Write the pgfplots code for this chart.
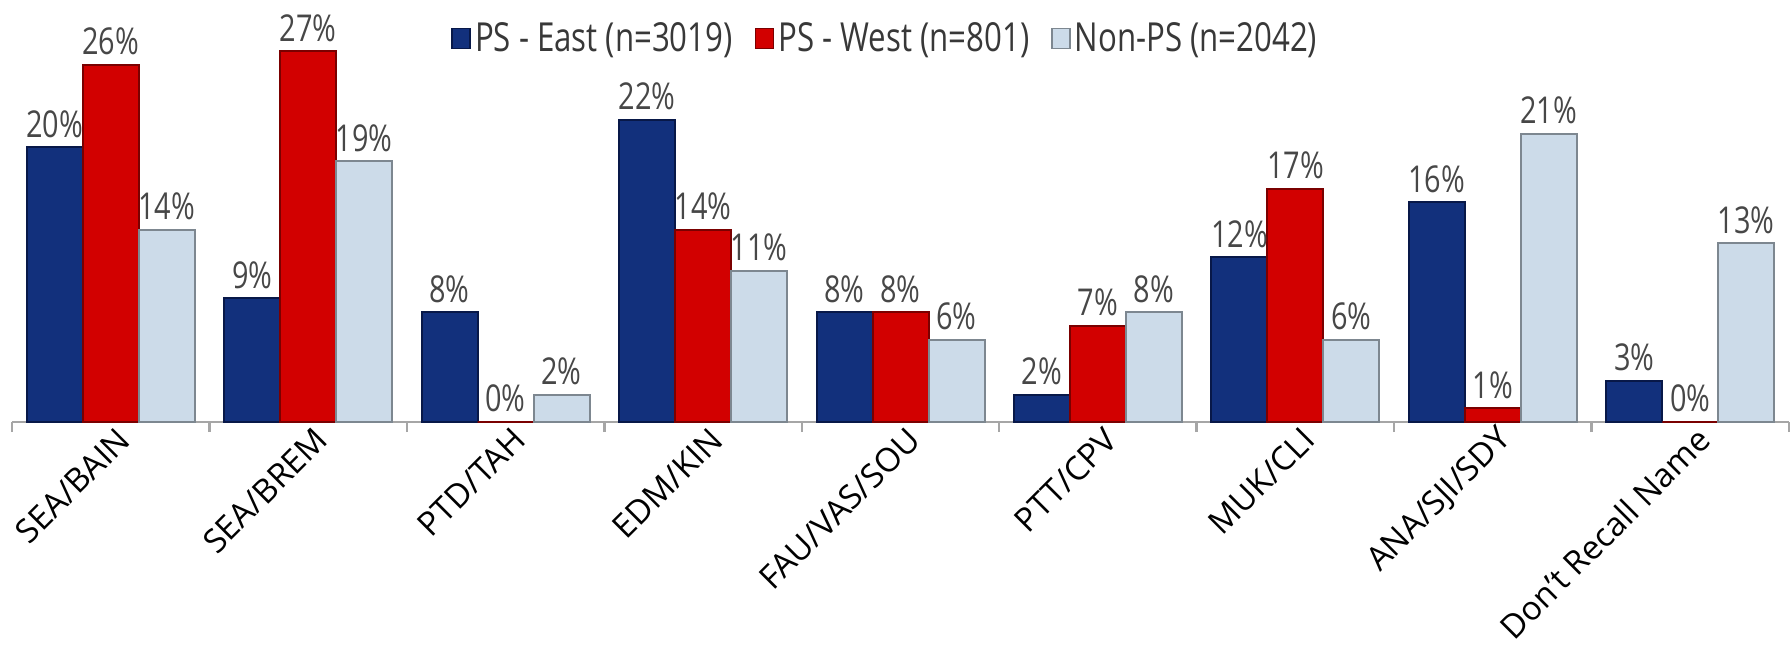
\documentclass[border=0pt]{standalone}
\usepackage{pgfplots}
\pgfplotsset{compat=1.18}
\usepackage{fontspec}
\setmainfont{Open Sans}
\newfontfamily\condfont{Open Sans}[FakeStretch=0.78]
\definecolor{bluem}{HTML}{12307C}
\definecolor{bluee}{HTML}{081848}
\definecolor{redm}{HTML}{D20000}
\definecolor{rede}{HTML}{7A0000}
\definecolor{graym}{HTML}{CCDBE9}
\definecolor{graye}{HTML}{7D8790}
\begin{document}
\begin{tikzpicture}
\begin{axis}[
  scale only axis, width=888.5pt, height=206pt,
  xmin=-0.5, xmax=8.5, ymin=0, ymax=30,
  axis x line*=bottom, axis y line=none,
  x axis line style={draw=gray!70, line width=1.2pt, -},
  ybar=0pt, bar width=28pt,
  /pgf/number format/assume math mode=true,
  xtick={0,1,2,3,4,5,6,7,8},
  xticklabels={SEA/BAIN, SEA/BREM, PTD/TAH, EDM/KIN, FAU/VAS/SOU, PTT/CPV, MUK/CLI, ANA/SJI/SDY, Don't Recall Name},
  major x tick style={draw=none},
  extra x ticks={-0.5,0.5,1.5,2.5,3.5,4.5,5.5,6.5,7.5,8.5},
  extra x tick labels={},
  extra x tick style={tick align=outside, major tick length=5pt, major x tick style={draw=gray!70, line width=1.2pt}},
  x tick label style={rotate=45, anchor=east, font=\fontsize{16.5}{18}\selectfont, xshift=7pt, yshift=-6pt},
  nodes near coords={\pgfmathprintnumber{\pgfplotspointmeta}\%},
  every node near coord/.append style={font=\condfont\fontsize{18.5}{20}\selectfont, text=black!72, yshift=1pt},
  legend style={at={(0.492,1.0)}, anchor=north, yshift=-2pt, draw=none, fill=none, legend columns=3,
    font=\condfont\fontsize{20}{22}\selectfont, text=black!78,
    /tikz/every even column/.append style={column sep=9pt}},
  legend image code/.code={\path[#1, line width=0.8pt] (0pt,-5pt) rectangle (9pt,5pt);},
  clip=false,
]
\addplot[fill=bluem, draw=bluee, line width=1pt] coordinates {(0,20) (1,9) (2,8) (3,22) (4,8) (5,2) (6,12) (7,16) (8,3)};
\addplot[fill=redm, draw=rede, line width=1pt] coordinates {(0,26) (1,27) (2,0) (3,14) (4,8) (5,7) (6,17) (7,1) (8,0)};
\addplot[fill=graym, draw=graye, line width=1pt] coordinates {(0,14) (1,19) (2,2) (3,11) (4,6) (5,8) (6,6) (7,21) (8,13)};
\legend{PS - East (n=3019), PS - West (n=801), Non-PS (n=2042)}
\coordinate (bl) at (rel axis cs:0,0);
\coordinate (tr) at (rel axis cs:1,1);
\end{axis}
\pgfresetboundingbox
\path[use as bounding box] ([xshift=-6pt,yshift=-111.5pt]bl) rectangle ([xshift=1.5pt,yshift=5pt]tr);
\end{tikzpicture}
\end{document}
